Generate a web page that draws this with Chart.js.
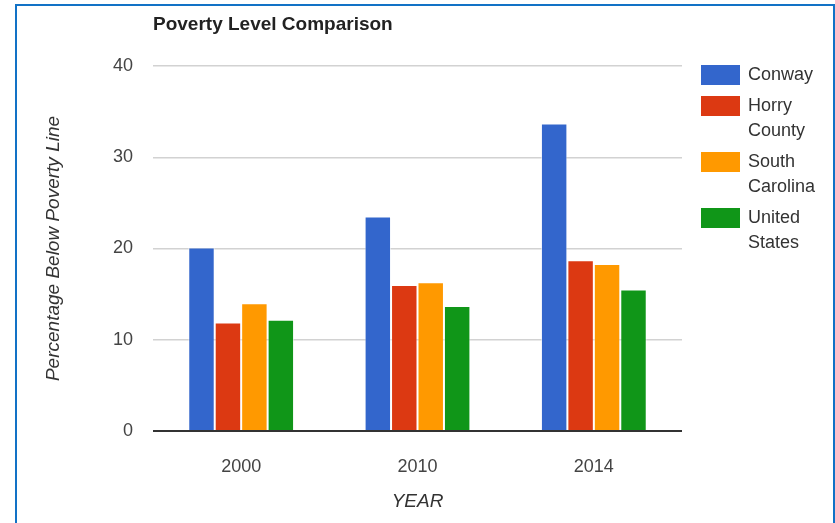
<!DOCTYPE html>
<html>
<head>
<meta charset="utf-8">
<script src="https://cdn.jsdelivr.net/npm/chart.js@4/dist/chart.umd.min.js"></script>
<style>
    html, body { margin: 0; padding: 0; background: #fff; overflow: hidden; }
    #frame {
        position: absolute; left: 15px; top: 4px;
        width: 816px; height: 530px;
        border: 2px solid #1272c6; border-bottom: none;
        background: #fff;
    }
    #chart { display: block; }
</style>
</head>
<body>
<div id="frame"><canvas id="chart" width="816" height="517"></canvas></div>
<script>
// --- data ---
const years = ['2000', '2010', '2014'];
const seriesNames = ['Conway', 'Horry County', 'South Carolina', 'United States'];
const seriesColors = ['#3366cc', '#dc3912', '#ff9900', '#109618'];
const conway = [20.1, 23.5, 33.7];
const horry = [11.9, 16.0, 18.7];
const southCarolina = [14.0, 16.3, 18.3];
const unitedStates = [12.2, 13.7, 15.5];
const yTicks = [0, 10, 20, 30, 40];

const chartTitle = 'Poverty Level Comparison';
const yTitle = 'Percentage Below Poverty Line';
const xTitle = 'YEAR';

const FONT = 'Arial, "Liberation Sans", sans-serif';

// wrap a legend label into lines no wider than maxW
function wrapLabel(ctx, text, maxW) {
    const words = text.split(' ');
    const lines = [];
    let cur = '';
    words.forEach(w => {
        const next = cur ? cur + ' ' + w : w;
        if (cur && ctx.measureText(next).width > maxW) {
            lines.push(cur);
            cur = w;
        } else {
            cur = next;
        }
    });
    if (cur) lines.push(cur);
    return lines;
}

// Google-style title + wrapped legend on the right
const googleBits = {
    id: 'googleBits',
    afterDraw(chart) {
        const { ctx, chartArea } = chart;
        ctx.save();
        ctx.fillStyle = '#222';
        ctx.font = 'bold 19px ' + FONT;
        ctx.textBaseline = 'middle';
        ctx.textAlign = 'left';
        ctx.fillText(chartTitle, chartArea.left, 19);

        const swX = chartArea.right + 19;
        const txX = swX + 47;
        let y = 59;
        ctx.font = '18px ' + FONT;
        chart.data.datasets.forEach((ds, i) => {
            ctx.fillStyle = ds.backgroundColor;
            ctx.fillRect(swX, y, 39, 20);
            ctx.fillStyle = '#333';
            const lines = wrapLabel(ctx, ds.label, chart.width - txX - 2);
            lines.forEach((ln, k) => ctx.fillText(ln, txX, y + 10 + k * 25));
            y += lines.length * 25 + 6;
        });
        ctx.restore();
    }
};

const datasets = [conway, horry, southCarolina, unitedStates].map((vals, i) => ({
    label: seriesNames[i],
    data: vals,
    backgroundColor: seriesColors[i],
    borderColor: 'rgba(255,255,255,0.55)',
    borderWidth: 1,
    categoryPercentage: 0.6,
    barPercentage: 1.0
}));

new Chart(document.getElementById('chart'), {
    type: 'bar',
    data: { labels: years, datasets },
    plugins: [googleBits],
    options: {
        responsive: false,
        animation: false,
        layout: { padding: { top: 60, right: 151, left: 0, bottom: 0 } },
        plugins: {
            legend: { display: false },
            title: { display: false },
            tooltip: { enabled: false }
        },
        scales: {
            x: {
                grid: { display: false },
                border: { display: false },
                ticks: { color: '#444', font: { size: 18, family: FONT }, padding: 17 },
                title: {
                    display: true, text: xTitle, color: '#333',
                    font: { size: 19, style: 'italic', family: FONT },
                    padding: { top: 0, bottom: 10 }
                },
                afterFit: s => { s.height = 92; }
            },
            y: {
                min: 0,
                max: 40,
                afterBuildTicks: s => { s.ticks = yTicks.map(v => ({ value: v })); },
                grid: {
                    drawTicks: false,
                    color: c => c.tick && c.tick.value === 0 ? '#333' : '#d2d2d2',
                    lineWidth: c => c.tick && c.tick.value === 0 ? 2 : 1.5
                },
                border: { display: false },
                ticks: { color: '#444', font: { size: 18, family: FONT }, padding: 20 },
                title: {
                    display: true, text: yTitle, color: '#333',
                    font: { size: 19, style: 'italic', family: FONT },
                    padding: { top: 25, bottom: 0 }
                },
                afterFit: s => { s.width = 136; }
            }
        }
    }
});
</script>
</body>
</html>
